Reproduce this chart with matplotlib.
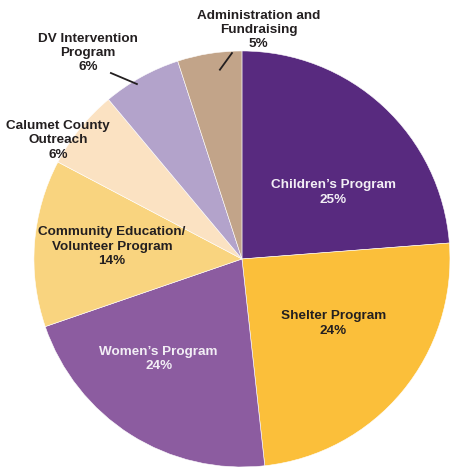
import matplotlib
matplotlib.use("Agg")
import matplotlib.pyplot as plt

plt.rcParams['font.family'] = ['Liberation Sans', 'DejaVu Sans']

labels = ["Children\u2019s Program\n25%", "Shelter Program\n24%", "Women\u2019s Program\n24%",
          "Community Education/\nVolunteer Program\n14%", "Calumet County\nOutreach\n6%",
          "DV Intervention\nProgram\n6%", "Administration and\nFundraising\n5%"]
# slice shares as drawn in the picture (angles)
shares = [23.8, 24.5, 21.5, 13.0, 6.2, 6.1, 5.0]
colors = ["#582a7f", "#fbbf3a", "#8c5ca0", "#f9d47f", "#fbe2c2", "#b3a3cb", "#c2a489"]
text_colors = ["#f2eef5", "#231f20", "#f2eef5", "#231f20", "#231f20", "#231f20", "#231f20"]
# label centres in data units (pie radius = 1)
label_pos = [(0.44, 0.32), (0.44, -0.31), (-0.40, -0.48), (-0.625, 0.06),
             (-0.885, 0.57), (-0.74, 0.99), (0.08, 1.10)]

fig = plt.figure(figsize=(4.5, 4.67), dpi=100)
ax = fig.add_axes([0, 0, 1, 1])
ax.pie(shares, colors=colors, startangle=90, counterclock=False, radius=1,
       wedgeprops=dict(edgecolor="white", linewidth=0.4))

for lab, (x, y), c in zip(labels, label_pos, text_colors):
    ax.text(x, y, lab, ha="center", va="center", fontsize=9.7, fontweight="bold",
            color=c, linespacing=1.25)

# leader lines
ax.plot([-0.63, -0.505], [0.894, 0.841], color="#231f20", lw=1.3)
ax.plot([-0.048, -0.106], [0.99, 0.91], color="#231f20", lw=1.3)

ax.set_xlim(-1.163, 1.0)
ax.set_ylim(-1.0, 1.245)
ax.set_aspect("equal")
ax.axis("off")
fig.savefig("out.png", dpi=100)
